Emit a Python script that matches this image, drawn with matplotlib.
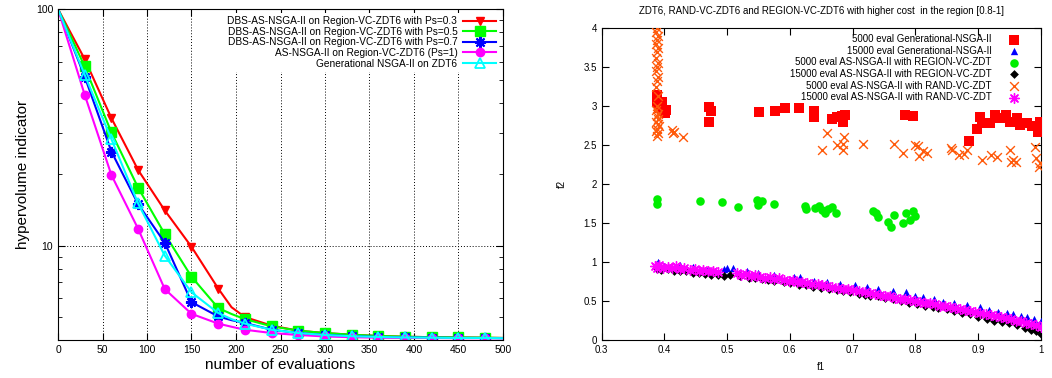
import matplotlib
matplotlib.use("Agg")
import matplotlib.pyplot as plt
import numpy as np
from matplotlib.ticker import FixedLocator, FuncFormatter, NullFormatter

# ---------------- left chart data ----------------
evals = [0, 30, 60, 90, 120, 150, 180, 195, 210, 240, 270, 300, 330, 360, 390, 420, 450, 480, 500]
hv_ps03 = [100, 61.4, 34.6, 20.9, 14.1, 9.9, 6.6, 5.5, 5.0, 4.6, 4.38, 4.28, 4.21, 4.16, 4.13, 4.11, 4.10, 4.09, 4.08]
hv_ps05 = [100, 57.2, 30.1, 17.6, 11.2, 7.4, 5.46, 5.15, 4.9, 4.57, 4.38, 4.28, 4.21, 4.16, 4.13, 4.11, 4.10, 4.09, 4.08]
hv_ps07 = [100, 51.8, 25.0, 15.0, 10.3, 5.78, 5.03, 4.85, 4.72, 4.42, 4.28, 4.2, 4.15, 4.12, 4.10, 4.09, 4.08, 4.08, 4.07]
hv_ps1 = [100, 43.4, 19.9, 11.8, 6.56, 5.16, 4.69, 4.55, 4.42, 4.28, 4.2, 4.14, 4.11, 4.09, 4.08, 4.08, 4.07, 4.07, 4.07]
hv_gen = [100, 52.7, 28.2, 15.1, 9.08, 6.36, 5.2, 4.9, 4.69, 4.42, 4.28, 4.2, 4.15, 4.12, 4.10, 4.09, 4.08, 4.08, 4.07]
left_labels = ["DBS-AS-NSGA-II on Region-VC-ZDT6 with Ps=0.3",
               "DBS-AS-NSGA-II on Region-VC-ZDT6 with Ps=0.5",
               "DBS-AS-NSGA-II on Region-VC-ZDT6 with Ps=0.7",
               "AS-NSGA-II on Region-VC-ZDT6 (Ps=1)",
               "Generational NSGA-II on ZDT6"]

# ---------------- right chart data ----------------
gen5k_f1 = [0.388, 0.388, 0.392, 0.396, 0.401, 0.403, 0.471, 0.475, 0.471, 0.551, 0.576, 0.593, 0.615,
            0.638, 0.638, 0.667, 0.675, 0.683, 0.688, 0.685, 0.784, 0.796, 0.886, 0.899, 0.904, 0.906,
            0.919, 0.927, 0.935, 0.945, 0.951, 0.962, 0.967, 0.978, 0.986, 0.994, 0.996, 0.999]
gen5k_f2 = [3.14, 3.05, 2.98, 3.06, 2.91, 2.95, 2.99, 2.94, 2.80, 2.92, 2.94, 2.98, 2.98,
            2.94, 2.86, 2.83, 2.86, 2.87, 2.89, 2.80, 2.89, 2.87, 2.55, 2.71, 2.86, 2.79,
            2.79, 2.89, 2.85, 2.89, 2.80, 2.85, 2.76, 2.79, 2.75, 2.74, 2.67, 2.80]

gen15k_f1 = [0.390, 0.400, 0.425, 0.446, 0.470, 0.495, 0.500, 0.510, 0.531, 0.550, 0.575, 0.606, 0.616,
             0.638, 0.660, 0.680, 0.704, 0.723, 0.740, 0.765, 0.786, 0.800, 0.813, 0.830, 0.845, 0.862,
             0.882, 0.903, 0.918, 0.932, 0.946, 0.956, 0.968, 0.978, 0.990, 1.000]
gen15k_f2 = [1.00, 0.95, 0.96, 0.94, 0.91, 0.91, 0.92, 0.92, 0.89, 0.86, 0.84, 0.81, 0.81,
             0.76, 0.75, 0.72, 0.70, 0.68, 0.66, 0.63, 0.61, 0.57, 0.55, 0.53, 0.49, 0.47,
             0.45, 0.42, 0.39, 0.36, 0.35, 0.33, 0.31, 0.30, 0.27, 0.24]

reg5k_f1 = [0.388, 0.388, 0.456, 0.492, 0.518, 0.548, 0.550, 0.555, 0.574, 0.624, 0.626, 0.640, 0.647,
            0.651, 0.656, 0.661, 0.668, 0.674, 0.732, 0.738, 0.741, 0.757, 0.762, 0.766, 0.781, 0.785,
            0.792, 0.797, 0.800]
reg5k_f2 = [1.81, 1.75, 1.78, 1.77, 1.71, 1.80, 1.73, 1.78, 1.74, 1.72, 1.68, 1.70, 1.72,
            1.67, 1.63, 1.68, 1.71, 1.63, 1.66, 1.63, 1.58, 1.51, 1.45, 1.60, 1.50, 1.63,
            1.54, 1.65, 1.59]

reg15k_f1 = [0.388, 0.395, 0.405, 0.415, 0.425, 0.435, 0.445, 0.455, 0.465, 0.475, 0.485, 0.495, 0.505,
             0.520, 0.535, 0.545, 0.555, 0.565, 0.575, 0.590, 0.600, 0.615, 0.625, 0.637, 0.650, 0.662,
             0.675, 0.685, 0.696, 0.710, 0.720, 0.728, 0.740, 0.752, 0.765, 0.778, 0.790, 0.802, 0.815,
             0.828, 0.836, 0.850, 0.862, 0.875, 0.888, 0.900, 0.914, 0.926, 0.938, 0.950, 0.962, 0.975,
             0.985, 0.993, 1.000]
reg15k_f2 = [0.91, 0.90, 0.91, 0.89, 0.88, 0.88, 0.86, 0.86, 0.85, 0.84, 0.83, 0.82, 0.83,
             0.82, 0.80, 0.79, 0.78, 0.77, 0.76, 0.74, 0.73, 0.71, 0.70, 0.68, 0.67, 0.66,
             0.64, 0.63, 0.61, 0.59, 0.58, 0.57, 0.56, 0.54, 0.52, 0.50, 0.48, 0.46, 0.44,
             0.42, 0.41, 0.40, 0.37, 0.35, 0.33, 0.30, 0.27, 0.25, 0.23, 0.22, 0.19, 0.16,
             0.13, 0.11, 0.08]

rand5k_f1 = [0.388, 0.387, 0.389, 0.388, 0.386, 0.389, 0.388, 0.387, 0.389, 0.388, 0.386, 0.389, 0.388,
             0.387, 0.389, 0.388, 0.386, 0.389, 0.388, 0.390, 0.387, 0.389, 0.391, 0.388, 0.386, 0.390,
             0.388, 0.412, 0.413, 0.415, 0.429, 0.652, 0.659, 0.675, 0.685, 0.684, 0.686, 0.716, 0.766,
             0.780, 0.800, 0.805, 0.806, 0.813, 0.819, 0.857, 0.859, 0.870, 0.878, 0.882, 0.907, 0.920,
             0.931, 0.951, 0.952, 0.956, 0.961, 0.991, 0.993, 0.998, 0.999]
rand5k_f2 = [4.00, 3.95, 3.90, 3.85, 3.80, 3.75, 3.70, 3.62, 3.55, 3.50, 3.45, 3.38, 3.32,
             3.25, 3.13, 3.00, 2.95, 2.90, 2.87, 2.83, 2.80, 2.77, 2.74, 2.71, 2.68, 2.65,
             2.62, 2.70, 2.65, 2.67, 2.60, 2.44, 2.66, 2.50, 2.44, 2.52, 2.61, 2.52, 2.52,
             2.40, 2.50, 2.49, 2.36, 2.42, 2.40, 2.46, 2.44, 2.37, 2.39, 2.44, 2.31, 2.37,
             2.35, 2.44, 2.29, 2.31, 2.28, 2.48, 2.33, 2.22, 2.27]

rand15k_f1 = [0.385, 0.388, 0.392, 0.398, 0.405, 0.412, 0.418, 0.425, 0.432, 0.440, 0.448, 0.455, 0.462,
              0.470, 0.478, 0.485, 0.515, 0.522, 0.530, 0.538, 0.545, 0.552, 0.560, 0.568, 0.575, 0.582,
              0.590, 0.598, 0.605, 0.612, 0.620, 0.628, 0.636, 0.645, 0.652, 0.660, 0.668, 0.676, 0.684,
              0.692, 0.700, 0.710, 0.720, 0.728, 0.736, 0.744, 0.752, 0.760, 0.768, 0.776, 0.784, 0.792,
              0.800, 0.808, 0.816, 0.824, 0.832, 0.840, 0.848, 0.856, 0.864, 0.872, 0.880, 0.888, 0.896,
              0.904, 0.912, 0.920, 0.928, 0.936, 0.944, 0.952, 0.960, 0.968, 0.976, 0.984, 0.992, 1.000]
rand15k_f2 = [0.95, 0.92, 0.96, 0.93, 0.94, 0.92, 0.95, 0.91, 0.93, 0.90, 0.91, 0.89, 0.90,
              0.88, 0.89, 0.87, 0.86, 0.83, 0.85, 0.82, 0.84, 0.81, 0.80, 0.81, 0.78, 0.79,
              0.77, 0.76, 0.77, 0.75, 0.74, 0.73, 0.72, 0.72, 0.70, 0.69, 0.68, 0.67, 0.66,
              0.65, 0.64, 0.63, 0.61, 0.60, 0.59, 0.58, 0.56, 0.56, 0.54, 0.53, 0.52, 0.51,
              0.50, 0.49, 0.48, 0.47, 0.46, 0.44, 0.44, 0.42, 0.41, 0.40, 0.38, 0.37, 0.36,
              0.35, 0.34, 0.32, 0.31, 0.30, 0.28, 0.27, 0.25, 0.24, 0.22, 0.21, 0.19, 0.17]

right_labels = ["5000 eval Generational-NSGA-II",
                "15000 eval Generational-NSGA-II",
                "5000 eval AS-NSGA-II with REGION-VC-ZDT",
                "15000 eval AS-NSGA-II with REGION-VC-ZDT",
                "5000 eval AS-NSGA-II with RAND-VC-ZDT",
                "15000 eval AS-NSGA-II with RAND-VC-ZDT"]
right_title = "ZDT6, RAND-VC-ZDT6 and REGION-VC-ZDT6 with higher cost  in the region [0.8-1]"

plt.rcParams['font.family'] = ['Liberation Sans', 'DejaVu Sans']

fig = plt.figure(figsize=(10.52, 3.78), dpi=100)
W, H = 1052.0, 378.0
axL = fig.add_axes([58 / W, 1 - 340 / H, (503 - 58) / W, (340 - 9) / H])
axR = fig.add_axes([601.7 / W, 1 - 340 / H, (1040.7 - 601.7) / W, (340 - 28.3) / H])

# ---------------- left chart ----------------
mk_idx = [i for i, e in enumerate(evals) if e > 0 and e % 30 == 0 and e <= 480]
series = [
    (hv_ps03, 'red', dict(marker='v', ms=6, mfc='red', mec='red')),
    (hv_ps05, '#00ff00', dict(marker='s', ms=6.5, mfc='#00ff00', mec='#00ff00')),
    (hv_ps07, 'blue', dict(marker=(8, 2, 0), ms=8, mfc='blue', mec='blue', mew=1.5)),
    (hv_ps1, 'magenta', dict(marker='o', ms=6, mfc='magenta', mec='magenta')),
    (hv_gen, 'cyan', dict(marker='^', ms=6.5, mfc='none', mec='cyan', mew=1.3)),
]
for (vals, col, mk), lab in zip(series, left_labels):
    axL.plot(evals, vals, color=col, lw=1.5, markevery=mk_idx, label=lab, **mk)

axL.set_yscale('log')
axL.set_xlim(0, 500)
axL.set_ylim(4.0, 100)
axL.xaxis.set_major_locator(FixedLocator(range(0, 501, 50)))
axL.yaxis.set_major_locator(FixedLocator([10, 100]))
axL.yaxis.set_major_formatter(FuncFormatter(lambda v, p: "%d" % v))
axL.yaxis.set_minor_locator(FixedLocator([4, 5, 6, 7, 8, 9, 20, 30, 40, 50, 60, 70, 80, 90]))
axL.yaxis.set_minor_formatter(NullFormatter())
axL.tick_params(which='both', direction='in', top=True, right=True, labelsize=7.5)
axL.tick_params(which='major', length=5)
axL.tick_params(which='minor', length=3)
axL.grid(True, which='major', color='black', linestyle=(0, (1, 2)), linewidth=0.7)
axL.set_axisbelow(True)
axL.set_xlabel("number of evaluations", fontsize=11, labelpad=2)
axL.set_ylabel("hypervolume indicator", fontsize=11, labelpad=4)
legL = axL.legend(loc='upper right', markerfirst=False, fontsize=7.3, frameon=True,
                  framealpha=1, edgecolor='none', facecolor='white', fancybox=False,
                  handlelength=3.2, handletextpad=0.6, labelspacing=0.06,
                  borderaxespad=0.4, borderpad=0.3)

# ---------------- right chart ----------------
axR.scatter(gen5k_f1, gen5k_f2, marker='s', s=45, color='red', linewidths=0, label=right_labels[0], zorder=3)
axR.scatter(gen15k_f1, gen15k_f2, marker='^', s=28, color='blue', linewidths=0, label=right_labels[1], zorder=3)
axR.scatter(reg5k_f1, reg5k_f2, marker='o', s=38, color='#00ee00', linewidths=0, label=right_labels[2], zorder=3)
axR.scatter(reg15k_f1, reg15k_f2, marker='D', s=20, color='black', linewidths=0, label=right_labels[3], zorder=3)
axR.scatter(rand5k_f1, rand5k_f2, marker='x', s=40, color='#ff5a0a', linewidths=1.0, label=right_labels[4], zorder=3)
axR.scatter(rand15k_f1, rand15k_f2, marker=(8, 2, 0), s=50, color='magenta', linewidths=1.0, label=right_labels[5], zorder=3)

axR.set_xlim(0.3, 1.0)
axR.set_ylim(0, 4)
axR.xaxis.set_major_locator(FixedLocator([0.3, 0.4, 0.5, 0.6, 0.7, 0.8, 0.9, 1.0]))
axR.yaxis.set_major_locator(FixedLocator([0, 0.5, 1, 1.5, 2, 2.5, 3, 3.5, 4]))
fmt = FuncFormatter(lambda v, p: ("%g" % round(v, 2)))
axR.xaxis.set_major_formatter(fmt)
axR.yaxis.set_major_formatter(fmt)
axR.tick_params(direction='in', top=True, right=True, labelsize=7, length=5)
axR.set_xlabel("f1", fontsize=7, labelpad=5)
axR.set_ylabel("f2", fontsize=7, labelpad=12)
axR.set_title(right_title, fontsize=7, pad=10)
legR = axR.legend(loc='upper right', bbox_to_anchor=(1 - 13 / 439.0, 1 + 2 / 311.7),
                  markerfirst=False, fontsize=7.0, frameon=False,
                  handlelength=1.2, handletextpad=1.7, labelspacing=0.17,
                  borderaxespad=0.4, scatterpoints=1)

fig.savefig("out.png", dpi=100)
